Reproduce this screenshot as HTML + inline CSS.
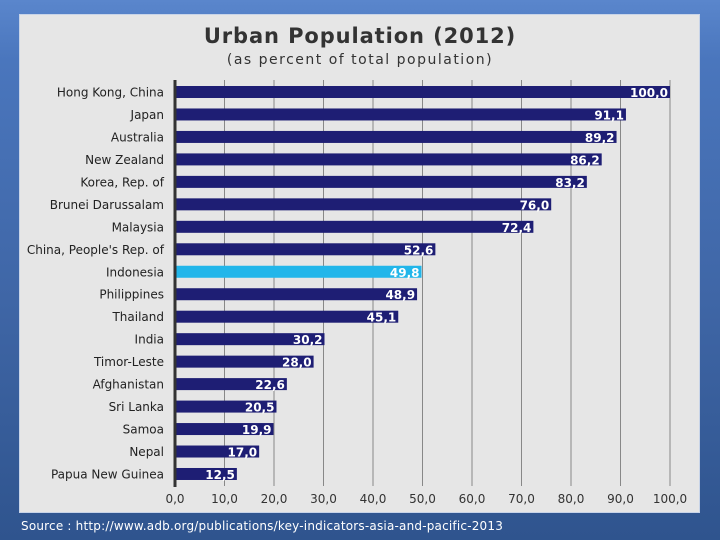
<!DOCTYPE html>
<html><head><meta charset="utf-8"><style>
body{margin:0;width:720px;height:540px;overflow:hidden;font-family:"DejaVu Sans","Liberation Sans",sans-serif;}
#bg{position:absolute;left:0;top:0;width:720px;height:540px;background:linear-gradient(#5a86cc 0px,#4a76bd 60px,#3f66a6 300px,#2f548e 540px);}
#panel{position:absolute;left:19px;top:14px;width:681px;height:499px;background:#e6e6e6;border:1px solid #c8d4e8;box-sizing:border-box;}
svg{position:absolute;left:0;top:0;}
</style></head><body>
<div id="bg"></div>
<div id="panel"></div>
<svg id="chart" width="720" height="540">
<text x="360" y="43" text-anchor="middle" font-size="21" letter-spacing="0.9" font-weight="bold" fill="#333">Urban Population (2012)</text>
<text x="360" y="64" text-anchor="middle" font-size="14" letter-spacing="1.5" fill="#333">(as percent of total population)</text>
<text x="21" y="530" font-size="12" letter-spacing="0.2" fill="#fff">Source : http://www.adb.org/publications/key-indicators-asia-and-pacific-2013</text>
</svg>
<script>
const categories=["Hong Kong, China","Japan","Australia","New Zealand","Korea, Rep. of","Brunei Darussalam","Malaysia","China, People's Rep. of","Indonesia","Philippines","Thailand","India","Timor-Leste","Afghanistan","Sri Lanka","Samoa","Nepal","Papua New Guinea"];
const values=[100.0,91.1,89.2,86.2,83.2,76.0,72.4,52.6,49.8,48.9,45.1,30.2,28.0,22.6,20.5,19.9,17.0,12.5];
const highlight="Indonesia";
const ticks=[0,10,20,30,40,50,60,70,80,90,100];
const NS="http://www.w3.org/2000/svg";
const svg=document.getElementById('chart');
const x0=175,x1=670,y0=92,step=22.47,bh=12;
const xs=v=>x0+(x1-x0)*v/100;
const ys=i=>y0+i*step;
function mk(t,a){const e=document.createElementNS(NS,t);for(const k in a)e.setAttribute(k,a[k]);svg.appendChild(e);return e;}
const fmt=v=>v.toFixed(1).replace('.',',');
ticks.forEach(t=>{
 if(t>0){const g=mk('line',{x1:xs(t),x2:xs(t),y1:80,y2:486,stroke:'#888','stroke-width':1});
 
 }
 const l=mk('text',{x:xs(t),y:503,'text-anchor':'middle','font-size':12,fill:'#333'});
 l.textContent=fmt(t);
 
 
});
categories.forEach((c,i)=>{
 const y=ys(i),v=values[i];
 const b=mk('rect',{x:x0,y:y-bh/2,width:xs(v)-x0,height:bh,fill:c===highlight?'#22b6ea':'#1e1e74'});
 
 
 const cl=mk('text',{x:164,y:y+4.5,'text-anchor':'end','font-size':12,fill:'#222'});
 cl.textContent=c;
 
 
 const vl=mk('text',{x:xs(v)-2,y:y+5,'text-anchor':'end','font-size':12,'font-weight':'bold',fill:'#fff'});
 vl.textContent=fmt(v);
 
 
});
const ax=mk('line',{x1:x0,x2:x0,y1:80,y2:487,stroke:'#333','stroke-width':3});


</script>
</body></html>
